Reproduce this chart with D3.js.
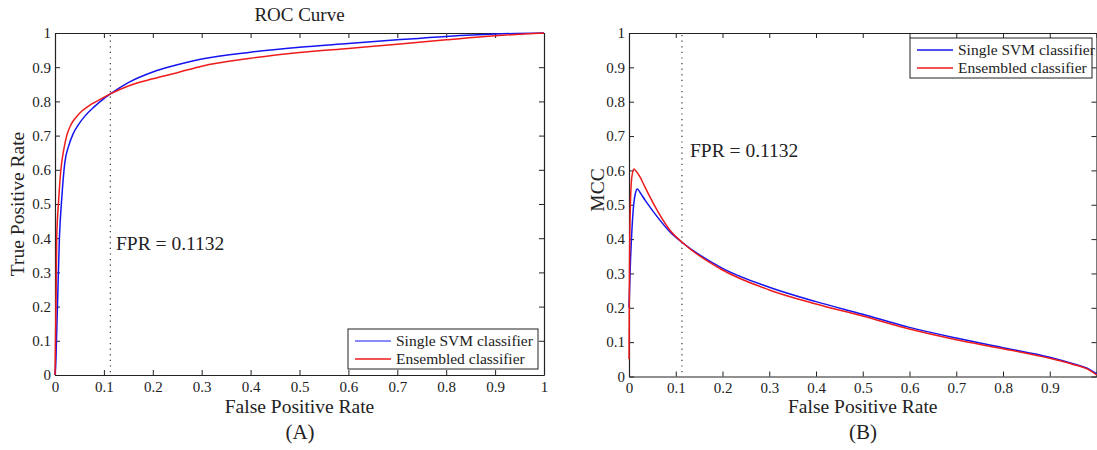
<!DOCTYPE html>
<html>
<head>
<meta charset="utf-8">
<script src="https://cdn.jsdelivr.net/npm/d3@7"></script>
<style>
  html, body { margin: 0; padding: 0; background: #fff; }
</style>
</head>
<body>
<svg id="chart" width="1097" height="450"></svg>
<script>
// ---------------- data ----------------
const xTicks = [0, 0.1, 0.2, 0.3, 0.4, 0.5, 0.6, 0.7, 0.8, 0.9, 1];
const xTickLabelsA = ["0", "0.1", "0.2", "0.3", "0.4", "0.5", "0.6", "0.7", "0.8", "0.9", "1"];
const xTickLabelsB = ["0", "0.1", "0.2", "0.3", "0.4", "0.5", "0.6", "0.7", "0.8", "0.9", ""];
const yTicks = [0, 0.1, 0.2, 0.3, 0.4, 0.5, 0.6, 0.7, 0.8, 0.9, 1];
const yTickLabels = ["0", "0.1", "0.2", "0.3", "0.4", "0.5", "0.6", "0.7", "0.8", "0.9", "1"];
const seriesNames = ["Single SVM classifier", "Ensembled classifier"];
const fprMark = 0.1132;

// ROC (panel A)
const rocSvmFpr = [0, 0.002, 0.003, 0.005, 0.009, 0.014, 0.02, 0.028, 0.037, 0.048, 0.061, 0.08, 0.098, 0.1132, 0.15, 0.2, 0.25, 0.3, 0.4, 0.5, 0.6, 0.7, 0.8, 0.9, 1];
const rocSvmTpr = [0, 0.05, 0.1, 0.2, 0.4, 0.52, 0.62, 0.67, 0.705, 0.732, 0.757, 0.784, 0.806, 0.822, 0.855, 0.886, 0.907, 0.924, 0.944, 0.958, 0.969, 0.980, 0.990, 0.997, 1];
const rocEnsFpr = [0, 0.001, 0.002, 0.0035, 0.007, 0.012, 0.018, 0.024, 0.032, 0.041, 0.055, 0.07, 0.085, 0.1132, 0.15, 0.2, 0.25, 0.3, 0.4, 0.5, 0.6, 0.7, 0.8, 0.9, 1];
const rocEnsTpr = [0, 0.1, 0.2, 0.4, 0.5, 0.6, 0.66, 0.7, 0.73, 0.75, 0.772, 0.788, 0.80, 0.822, 0.845, 0.866, 0.884, 0.903, 0.926, 0.943, 0.955, 0.967, 0.980, 0.992, 1];

// MCC (panel B)
const mccSvmFpr = [0, 0.003, 0.006, 0.01, 0.014, 0.018, 0.024, 0.034, 0.052, 0.0877, 0.116, 0.2, 0.3, 0.4, 0.5, 0.6, 0.7, 0.8, 0.9, 0.95, 0.98, 1];
const mccSvmVal = [0.2, 0.33, 0.42, 0.5, 0.535, 0.546, 0.535, 0.514, 0.48, 0.421, 0.388, 0.315, 0.26, 0.218, 0.181, 0.143, 0.112, 0.084, 0.056, 0.037, 0.024, 0.008];
const mccEnsFpr = [0, 0.001, 0.003, 0.006, 0.0107, 0.015, 0.0235, 0.034, 0.052, 0.0877, 0.116, 0.2, 0.3, 0.4, 0.5, 0.6, 0.7, 0.8, 0.9, 0.95, 0.98, 1];
const mccEnsVal = [0.05, 0.3, 0.5, 0.58, 0.604, 0.598, 0.581, 0.552, 0.504, 0.426, 0.388, 0.31, 0.252, 0.211, 0.176, 0.138, 0.107, 0.081, 0.053, 0.035, 0.022, 0.005];

// ---------------- drawing ----------------
const FONT = "'Liberation Serif', 'DejaVu Serif', 'Times New Roman', serif";
const svg = d3.select("#chart");
const colors = ["#1515f0", "#ee1b1b"];

function panel(opts) {
  const g = svg.append("g");
  const x = d3.scaleLinear().domain([0, 1]).range([opts.x0, opts.x1]);
  const y = d3.scaleLinear().domain([0, 1]).range([opts.y0, opts.y1]);
  const tk = 5;

  const ax = (axis, tr) => g.append("g").attr("transform", tr).call(axis)
    .attr("font-family", null)
    .call(s => s.select(".domain").attr("stroke", "#222").attr("stroke-width", 1.2))
    .call(s => s.selectAll(".tick line").attr("stroke", "#222").attr("stroke-width", 1));

  ax(d3.axisBottom(x).tickValues(xTicks).tickSizeInner(-tk).tickSizeOuter(0).tickPadding(6)
      .tickFormat((d, i) => opts.xLabels[i]), `translate(0,${opts.y0})`);
  ax(d3.axisTop(x).tickValues(xTicks).tickSizeInner(-tk).tickSizeOuter(0).tickFormat(""), `translate(0,${opts.y1})`);
  ax(d3.axisLeft(y).tickValues(yTicks).tickSizeInner(-tk).tickSizeOuter(0).tickPadding(4)
      .tickFormat((d, i) => yTickLabels[i]), `translate(${opts.x0},0)`);
  ax(d3.axisRight(y).tickValues(yTicks).tickSizeInner(-tk).tickSizeOuter(0).tickFormat(""), `translate(${opts.x1},0)`);
  g.selectAll(".tick text").attr("fill", "#222").style("font-family", FONT).style("font-size", "15px");

  // dotted marker
  g.append("line")
    .attr("x1", x(fprMark)).attr("x2", x(fprMark))
    .attr("y1", y(1) + 2).attr("y2", y(0) - 2)
    .attr("stroke", "#333").attr("stroke-width", 1.2).attr("stroke-dasharray", "1.2,4.4");

  // curves
  const line = d3.line().x(d => x(d[0])).y(d => y(d[1])).curve(d3.curveMonotoneX);
  opts.series.forEach((s, i) => {
    g.append("path")
      .datum(d3.zip(s[0], s[1]))
      .attr("fill", "none").attr("stroke", colors[i]).attr("stroke-width", 1.5)
      .attr("d", line);
  });

  const txt = (sel) => sel.style("font-family", FONT).attr("fill", "#222");

  g.append("text").attr("x", opts.annX).attr("y", opts.annY)
    .style("font-size", "19.5px").text("FPR = " + fprMark).call(txt);

  g.append("text").attr("x", (opts.x0 + opts.x1) / 2).attr("y", 413)
    .attr("text-anchor", "middle").style("font-size", "19.5px").text("False Positive Rate").call(txt);
  g.append("text").attr("transform", `translate(${opts.yLabX},${opts.yLabY}) rotate(-90)`)
    .attr("text-anchor", "middle").style("font-size", "19.5px").text(opts.yLabel).call(txt);
  g.append("text").attr("x", opts.capX).attr("y", 439)
    .attr("text-anchor", "middle").style("font-size", "21px").text(opts.caption).call(txt);
  if (opts.title) {
    g.append("text").attr("x", (opts.x0 + opts.x1) / 2).attr("y", 21)
      .attr("text-anchor", "middle").style("font-size", "19px").text(opts.title).call(txt);
  }

  const L = opts.legend;
  const lg = g.append("g");
  lg.append("rect").attr("x", L.x).attr("y", L.y).attr("width", L.w).attr("height", L.h)
    .attr("fill", "#fff").attr("stroke", "#222").attr("stroke-width", 1);
  seriesNames.forEach((n, i) => {
    const yy = L.y + 12 + i * 18;
    lg.append("line").attr("x1", L.x + 7).attr("x2", L.x + 43).attr("y1", yy).attr("y2", yy)
      .attr("stroke", colors[i]).attr("stroke-width", L.lw[i]);
    lg.append("text").attr("x", L.x + 48).attr("y", yy + 5).style("font-size", "15.5px").text(n).call(txt);
  });
}

panel({
  x0: 55, x1: 544, y0: 375, y1: 33,
  xLabels: xTickLabelsA,
  series: [[rocSvmFpr, rocSvmTpr], [rocEnsFpr, rocEnsTpr]],
  annX: 116, annY: 250,
  yLabel: "True Positive Rate", yLabX: 24, yLabY: 204,
  caption: "(A)", capX: 300, title: "ROC Curve",
  legend: { x: 348, y: 329, w: 190, h: 40, lw: [1, 1.5] }
});

panel({
  x0: 629, x1: 1096.5, y0: 376.5, y1: 33,
  xLabels: xTickLabelsB,
  series: [[mccSvmFpr, mccSvmVal], [mccEnsFpr, mccEnsVal]],
  annX: 690, annY: 157,
  yLabel: "MCC", yLabX: 604, yLabY: 190,
  caption: "(B)", capX: 863, title: null,
  legend: { x: 910, y: 38, w: 182, h: 40, lw: [1.5, 1.5] }
});
</script>
</body>
</html>
